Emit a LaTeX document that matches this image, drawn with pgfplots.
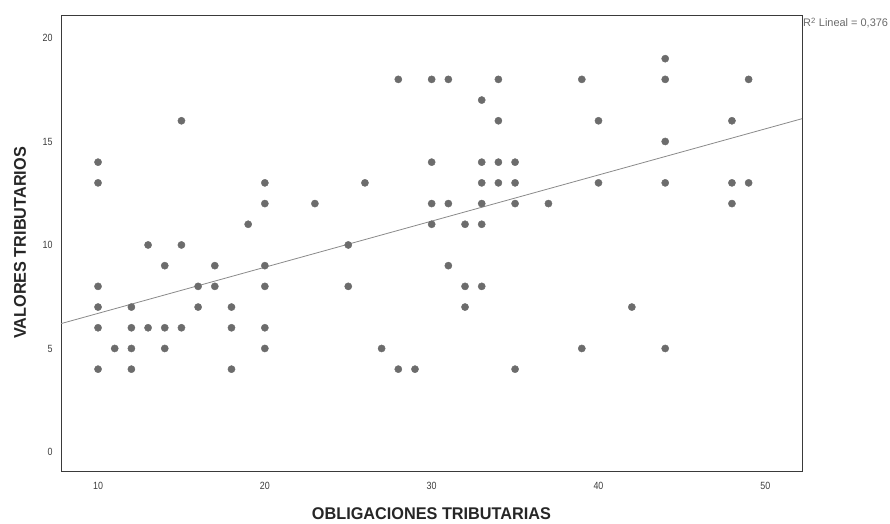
\documentclass[border=0pt]{standalone}
\usepackage{pgfplots}
\pgfplotsset{compat=1.18}
\usepackage{fontspec}
\setmainfont{Liberation Sans}
\newfontfamily\titlefont{Liberation Sans}[FakeStretch=0.96]
\newfontfamily\tickfont{Liberation Sans}[FakeStretch=0.85]
\definecolor{dotc}{HTML}{6C6C6C}
\definecolor{framec}{HTML}{3A3A3A}
\definecolor{tickc}{HTML}{3C3C3C}
\definecolor{rc}{HTML}{6A6A6A}
\definecolor{linec}{HTML}{8A8A8A}
\begin{document}
\begin{tikzpicture}[x=1bp,y=1bp]
\begin{axis}[
  name=ax,
  width=741bp, height=456bp, scale only axis,
  xmin=7.78, xmax=52.2, ymin=-0.92, ymax=21.11,
  xtick={10,20,30,40,50}, ytick={0,5,10,15,20},
  major tick length=0pt,
  axis line style={framec, line width=0.9bp},
  tick label style={font=\tickfont\fontsize{10.5}{11}\selectfont, text=tickc},
  /pgf/number format/assume math mode=true,
  xticklabel style={yshift=-8bp},
  yticklabel style={xshift=-5bp},
  xlabel={OBLIGACIONES TRIBUTARIAS},
  ylabel={VALORES TRIBUTARIOS},
  label style={font=\titlefont\bfseries\fontsize{17}{18}\selectfont, text=black!85},
  xlabel style={at={(axis description cs:0.5,0)}, anchor=base, yshift=-48bp},
  ylabel style={at={(axis description cs:0,0.5)}, anchor=base, yshift=35bp},
  clip=false,
]
\addplot[only marks, mark=*, mark size=3.6bp, dotc, mark options={draw=dotc, fill=dotc}] coordinates {
(10,14) (10,13) (10,8) (10,7) (10,6) (10,4)
(11,5)
(12,7) (12,6) (12,5) (12,4)
(13,10) (13,6)
(14,9) (14,6) (14,5)
(15,16) (15,10) (15,6)
(16,8) (16,7)
(17,9) (17,8)
(18,7) (18,6) (18,4)
(19,11)
(20,13) (20,12) (20,9) (20,8) (20,6) (20,5)
(23,12)
(25,10) (25,8)
(26,13)
(27,5)
(28,18) (28,4)
(29,4)
(30,18) (30,14) (30,12) (30,11)
(31,18) (31,12) (31,9)
(32,11) (32,8) (32,7)
(33,17) (33,14) (33,13) (33,12) (33,11) (33,8)
(34,18) (34,16) (34,14) (34,13)
(35,14) (35,13) (35,12) (35,4)
(37,12)
(39,18) (39,5)
(40,16) (40,13)
(42,7)
(44,19) (44,18) (44,15) (44,13) (44,5)
(48,16) (48,13) (48,12)
(49,18) (49,13)
};
\addplot[linec, line width=0.8bp, no marks] coordinates {(7.78,6.20) (52.2,16.10)};
\end{axis}
\node[anchor=base west, inner sep=0pt, text=rc, font=\fontsize{11}{12}\selectfont] at ([shift={(1bp,-12bp)}]ax.north east) {R$^{\mathrm{2}}$ Lineal = 0,376};
\path ([shift={(-61bp,-53bp)}]ax.south west) rectangle ([shift={(88bp,15bp)}]ax.north east);
\end{tikzpicture}
\end{document}
